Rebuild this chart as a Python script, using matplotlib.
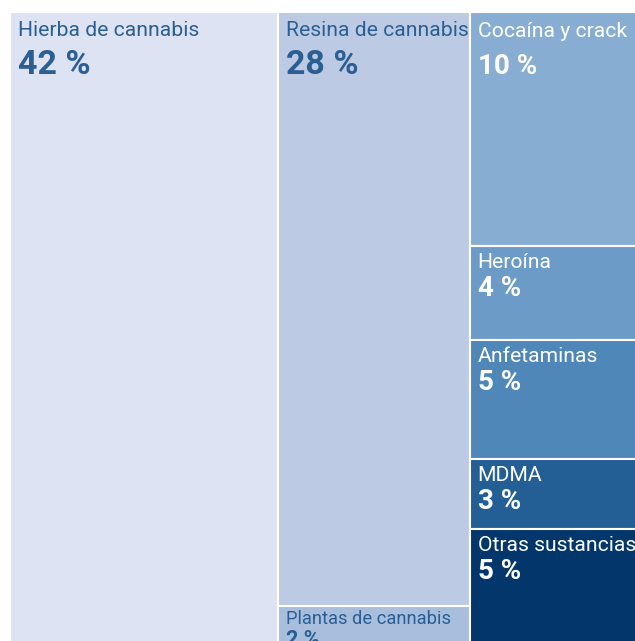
import matplotlib.pyplot as plt
from matplotlib.patches import Rectangle

# shares of seizures (%), grouped in three treemap columns
names = ['Hierba de cannabis', 'Resina de cannabis', 'Plantas de cannabis',
         'Cocaína y crack', 'Heroína', 'Anfetaminas', 'MDMA', 'Otras sustancias']
shares = [42, 28.2, 1.8, 10, 4, 5.1, 3, 4.9]
column = [0, 1, 1, 2, 2, 2, 2, 2]
colors = ['#dde3f2', '#bccbe3', '#a8bedc', '#88add2',
          '#6b9bc6', '#4f88b8', '#235f95', '#03376b']

dark_text = '#2b5f94'

# treemap area in pixels (partly cut off by the canvas)
x0, y0, side = 10, 12, 632

fig = plt.figure(figsize=(6.35, 6.41), dpi=100)
ax = fig.add_axes([0, 0, 1, 1])
ax.set_xlim(0, 635)
ax.set_ylim(641, 0)
ax.axis('off')

total = sum(shares)
n_cols = max(column) + 1
x = x0
for c in range(n_cols):
    idx = [i for i in range(len(names)) if column[i] == c]
    col_sum = sum(shares[i] for i in idx)
    w = side * col_sum / total
    y = y0
    for i in idx:
        h = side * shares[i] / col_sum
        ax.add_patch(Rectangle((x, y), w, h, facecolor=colors[i],
                               edgecolor='white', linewidth=1.5))
        tc = dark_text if i < 3 else 'white'
        if h < 60:
            lab_fs, val_fs, lab_off, val_off = 13.2, 15.5, 18, 40
        elif w > 180:
            lab_fs, val_fs, lab_off, val_off = 15.2, 24.5, 24, 62
        elif h > 200:
            lab_fs, val_fs, lab_off, val_off = 15.2, 20, 25, 62
        else:
            lab_fs, val_fs, lab_off, val_off = 15.2, 20, 22, 50
        ax.text(x + 8, y + lab_off, names[i], color=tc, fontsize=lab_fs,
                family='Roboto', fontweight='normal', va='baseline')
        ax.text(x + 8, y + val_off, f'{round(shares[i])} %', color=tc,
                fontsize=val_fs, family='Roboto', fontweight='bold',
                va='baseline')
        y += h
    x += w

fig.savefig('out.png', dpi=100)
